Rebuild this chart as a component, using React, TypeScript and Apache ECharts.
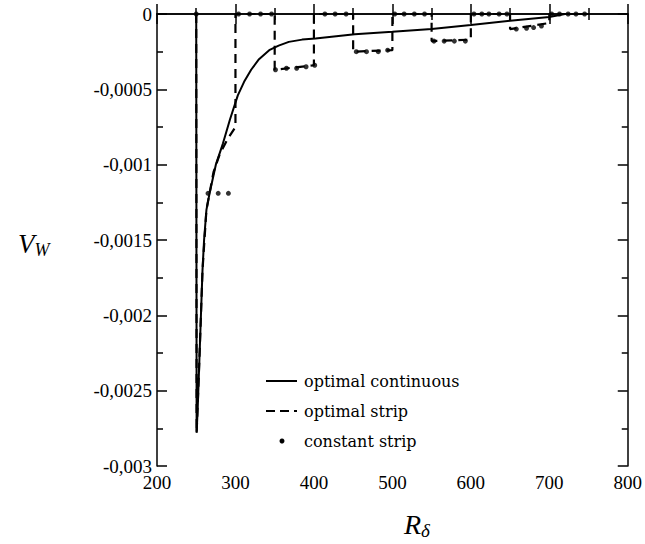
import React, { useEffect, useRef } from "react";
import * as echarts from "echarts";

// optimal continuous
const contR = [250, 250.5, 252, 254, 256, 258, 260, 263, 267, 275, 284, 293, 303, 311, 320, 330, 343, 355, 368, 385, 402, 452, 500, 550, 600, 650, 700, 720, 750];
const contV = [0, -0.00278, -0.0026, -0.0023, -0.002, -0.0017, -0.0015, -0.0013, -0.00119, -0.001, -0.00086, -0.0007, -0.00054, -0.00045, -0.00037, -0.0003, -0.00024, -0.00021, -0.000185, -0.00017, -0.000163, -0.000134, -0.000118, -0.0001, -0.000073, -0.000045, -0.00002, 0, 0];

// optimal strip
const stripR = [250, 250.5, 254, 258, 263, 267, 272, 280, 290, 300, 300, 350, 350, 400, 400, 450, 450, 500, 500, 550, 550, 600, 600, 650, 650, 700, 700, 750];
const stripV = [0, -0.00278, -0.0023, -0.0017, -0.0013, -0.00119, -0.00105, -0.00093, -0.00083, -0.00075, 0, 0, -0.00037, -0.00034, 0, 0, -0.00025, -0.00024, 0, 0, -0.00018, -0.00017, 0, 0, -0.0001, -0.00006, 0, 0];

// constant strip
const constR = [250, 265, 278, 291, 304, 318, 332, 346, 351, 365, 378, 390, 401, 414, 427, 441, 454, 467, 482, 494, 503, 515, 528, 541, 553, 566, 579, 593, 604, 614, 623, 636, 646, 658, 671, 680, 690, 703, 713, 724, 734, 745];
const constV = [0, -0.00119, -0.00119, -0.00119, 0, 0, 0, 0, -0.00037, -0.00036, -0.00036, -0.00035, -0.00034, 0, 0, 0, -0.00025, -0.00025, -0.00025, -0.00024, 0, 0, 0, 0, -0.00018, -0.00018, -0.00018, -0.00018, 0, 0, 0, 0, 0, -0.0001, -0.000095, -0.00009, -0.00008, 0, 0, 0, 0, 0];

const legendLabels = ["optimal continuous", "optimal strip", "constant strip"];

const zip = (a: number[], b: number[]) => a.map((v, i) => [v, b[i]]);

const fmtY = (v: number) => {
  if (Math.abs(v) < 1e-12) return "0";
  return String(+v.toPrecision(6)).replace(".", ",");
};

export default function App() {
  const ref = useRef<HTMLDivElement>(null);
  useEffect(() => {
    if (!ref.current) return;
    const chart = echarts.init(ref.current, null, { renderer: "svg" });
    const serif = "Liberation Serif";
    const axisLine = { show: true, lineStyle: { color: "#000", width: 1.5 } };
    const axisTick = { show: true, inside: true, length: 10, lineStyle: { color: "#000", width: 1.5 } };
    const minorTick = { show: true, splitNumber: 2, length: 6, lineStyle: { color: "#000", width: 1.5 } };
    chart.setOption({
      animation: false,
      backgroundColor: "#fff",
      grid: { left: 157, right: 15, top: 14, bottom: 78 },
      xAxis: [
        {
          type: "value", min: 200, max: 800, interval: 100, position: "bottom",
          axisLine, axisTick, minorTick: { ...minorTick },
          splitLine: { show: false },
          axisLabel: { color: "#000", fontFamily: serif, fontSize: 19, margin: 7 },
        },
        {
          type: "value", min: 200, max: 800, interval: 100, position: "top",
          axisLine, axisTick, minorTick: { ...minorTick },
          splitLine: { show: false }, axisLabel: { show: false },
        },
      ],
      yAxis: [
        {
          type: "value", min: -0.003, max: 0, interval: 0.0005, position: "left",
          axisLine, axisTick, minorTick: { ...minorTick },
          splitLine: { show: false },
          axisLabel: { color: "#000", fontFamily: serif, fontSize: 19, margin: 5, formatter: fmtY },
        },
        {
          type: "value", min: -0.003, max: 0, interval: 0.0005, position: "right",
          axisLine, axisTick, minorTick: { ...minorTick },
          splitLine: { show: false }, axisLabel: { show: false },
        },
      ],
      series: [
        {
          name: legendLabels[0], type: "line", data: zip(contR, contV), showSymbol: false,
          lineStyle: { color: "#000", width: 2 }, z: 3,
        },
        {
          name: legendLabels[1], type: "line", data: zip(stripR, stripV), showSymbol: false,
          lineStyle: { color: "#000", width: 2.2, type: [9, 6] }, z: 2,
        },
        {
          name: legendLabels[2], type: "scatter", data: zip(constR, constV), symbol: "circle", symbolSize: 5,
          itemStyle: { color: "#000" }, z: 4,
        },
      ],
      graphic: [
        { type: "line", shape: { x1: 266, y1: 381, x2: 297, y2: 381 }, style: { stroke: "#000", lineWidth: 2 } },
        { type: "line", shape: { x1: 266, y1: 411, x2: 297, y2: 411 }, style: { stroke: "#000", lineWidth: 2.2, lineDash: [9, 5] } },
        { type: "circle", shape: { cx: 282, cy: 441, r: 2.5 }, style: { fill: "#000" } },
        { type: "text", x: 304, y: 381, style: { text: legendLabels[0], fill: "#000", font: "16px 'DejaVu Serif'", verticalAlign: "middle" } },
        { type: "text", x: 304, y: 411, style: { text: legendLabels[1], fill: "#000", font: "16px 'DejaVu Serif'", verticalAlign: "middle" } },
        { type: "text", x: 304, y: 441, style: { text: legendLabels[2], fill: "#000", font: "16px 'DejaVu Serif'", verticalAlign: "middle" } },
        {
          type: "text", x: 18, y: 244,
          style: {
            text: "{v|V}{s|W}", verticalAlign: "middle",
            rich: {
              v: { font: "italic 27px 'Liberation Serif'", fill: "#000" },
              s: { font: "italic 18px 'Liberation Serif'", fill: "#000", padding: [12, 0, 0, 0] },
            },
          },
        },
        {
          type: "text", x: 404, y: 524,
          style: {
            text: "{v|R}{s|δ}", verticalAlign: "middle",
            rich: {
              v: { font: "italic 28px 'Liberation Serif'", fill: "#000" },
              s: { font: "italic 19px 'Liberation Serif'", fill: "#000", padding: [12, 0, 0, 0] },
            },
          },
        },
      ],
    });
    return () => chart.dispose();
  }, []);
  return <div ref={ref} style={{ position: "fixed", left: 0, top: 0, width: 645, height: 544 }} />;
}
